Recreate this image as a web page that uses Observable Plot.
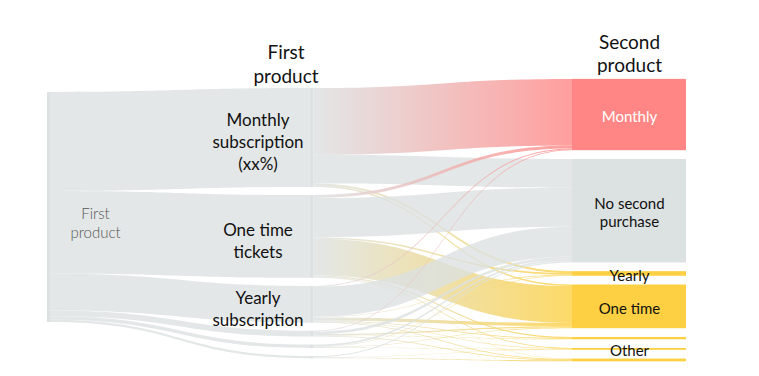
<!DOCTYPE html>
<html>
<head>
<meta charset="utf-8">
<script src="https://cdn.jsdelivr.net/npm/d3@7"></script>
<script src="https://cdn.jsdelivr.net/npm/@observablehq/plot@0.6"></script>
<style>
  html, body { margin: 0; padding: 0; background: #fff; }
  #chart { width: 759px; height: 376px; }
</style>
</head>
<body>
<div id="chart"></div>
<script>
// ---------------- DATA ----------------
const sourceLabel = "First\nproduct";
const columnTitles = ["First\nproduct", "Second\nproduct"];

// First product (middle column), share of customers in %
const firstProducts = ["Monthly\nsubscription\n(xx%)", "One time\ntickets", "Yearly\nsubscription", "", "", ""];
const firstShares = [43, 36, 16, 2.5, 1.5, 1.0];

// Second product (right column)
const secondProducts = ["Monthly", "No second\npurchase", "Yearly", "One time", "", "Other", ""];
const secondKinds = ["monthly", "none", "yearly", "onetime", "other", "other", "other"];

// flows[i][j]: % of customers going from first product i to second product j
const flows = [
  [29.0, 12.5, 0.8, 0.7, 0.0, 0.0, 0.0],
  [1.3, 17.0, 0.7, 16.0, 0.5, 0.3, 0.2],
  [0.4, 13.0, 0.3, 1.5, 0.3, 0.2, 0.3],
  [0.3, 1.2, 0.0, 0.5, 0.2, 0.0, 0.3],
  [0.0, 0.8, 0.2, 0.3, 0.0, 0.2, 0.0],
  [0.0, 0.5, 0.0, 0.0, 0.0, 0.1, 0.4]
];

// ---------------- STYLE / LAYOUT CONFIG ----------------
const palette = {grey: "#dce1e1", monthly: "#ff8684", none: "#dce1e1", yearly: "#fcd042", onetime: "#fcd042", other: "#fcd042"};
const W = 759, H = 376;
const K = 2.3;               // px per percentage point
const COL_PX = 262.5;        // px between columns
const LEFT_PX = 47;          // px of first column
const nodeWidthPx = [3, 4, 114];
const nodeW = nodeWidthPx.map(w => w / COL_PX);
const colTop = [40, 38.3, 34.3];  // in % units
const colGap = [0, 3.5, 3.8];     // in % units
const FONT = "Lato, 'Open Sans', sans-serif";

// ---------------- LAYOUT ----------------
const cols = [
  [{name: "src", label: sourceLabel, value: d3.sum(firstShares), color: palette.grey}],
  firstProducts.map((label, i) => ({name: "m" + i, label, value: firstShares[i], color: palette.grey})),
  secondProducts.map((label, j) => ({name: "s" + j, label, value: d3.sum(flows, r => r[j]), color: palette[secondKinds[j]], kind: secondKinds[j]}))
];
cols.forEach((col, c) => {
  let y = colTop[c];
  col.forEach(n => {
    n.col = c; n.y0 = y; n.y1 = y + n.value; n.out = n.y0; n.in = n.y0;
    y = n.y1 + colGap[c];
  });
});

const links = [];
cols[1].forEach((t, i) => links.push({source: cols[0][0], target: t, value: firstShares[i]}));
flows.forEach((row, i) => row.forEach((v, j) => { if (v > 0) links.push({source: cols[1][i], target: cols[2][j], value: v}); }));
links.forEach((l, k) => {
  l.id = "lg" + k;
  l.sy0 = l.source.out; l.sy1 = l.sy0 + l.value; l.source.out = l.sy1;
  l.ty0 = l.target.in; l.ty1 = l.ty0 + l.value; l.target.in = l.ty1;
  l.path = [
    {x: l.source.col + nodeW[l.source.col], y0: l.sy0, y1: l.sy1},
    {x: l.target.col, y0: l.ty0, y1: l.ty1}
  ];
});

const allNodes = cols.flat();

// ---------------- PLOT ----------------
const svg = Plot.plot({
  width: W,
  height: H,
  margin: 0,
  style: {fontFamily: FONT, background: "white"},
  x: {domain: [-LEFT_PX / COL_PX, (W - LEFT_PX) / COL_PX], range: [0, W], axis: null},
  y: {domain: [0, H / K], range: [0, H], axis: null},
  color: {type: "identity"},
  marks: [
    ...links.map(l => Plot.area(l.path, {
      x1: "x", y1: "y0", y2: "y1",
      fill: `url(#${l.id})`, fillOpacity: 0.8, curve: "bump-x"
    })),
    Plot.rect(allNodes, {
      x1: d => d.col, x2: d => d.col + nodeW[d.col],
      y1: "y0", y2: "y1", fill: d => d.color
    }),
    // column titles
    Plot.text([columnTitles[0]], {
      x: () => 1, y: () => colTop[1], text: d => d, dx: -24, dy: -25,
      fontSize: 19, lineHeight: 1.22, lineAnchor: "middle", fill: "#111", fontFamily: FONT
    }),
    Plot.text([columnTitles[1]], {
      x: () => 2 + nodeW[2] / 2, y: () => colTop[2], text: d => d, dy: -26,
      fontSize: 19, lineHeight: 1.22, lineAnchor: "middle", fill: "#111", fontFamily: FONT
    }),
    // left label
    Plot.text(cols[0], {
      x: d => d.col, y: d => (d.y0 + d.y1) / 2, text: "label", dx: 48, dy: 15,
      fontSize: 15, fontWeight: 300, lineHeight: 1.25, fill: "#555", fontFamily: FONT
    }),
    // first product labels
    Plot.text(cols[1], {
      x: d => d.col, y: d => (d.y0 + d.y1) / 2, text: "label", dx: -52, dy: 3,
      fontSize: 17, lineHeight: 1.3, fill: "#111", fontFamily: FONT
    }),
    // second product labels
    Plot.text(cols[2], {
      x: d => d.col + nodeW[2] / 2, y: d => (d.y0 + d.y1) / 2, text: "label", dy: 1,
      fontSize: 15, lineHeight: 1.2, fill: d => d.kind === "monthly" ? "#ffffff" : "#111", fontFamily: FONT
    })
  ]
});

// gradients for links (source colour -> target colour)
const defs = d3.select(svg).insert("defs", ":first-child");
links.forEach(l => {
  const g = defs.append("linearGradient").attr("id", l.id)
    .attr("x1", "0%").attr("x2", "100%").attr("y1", "0%").attr("y2", "0%");
  g.append("stop").attr("offset", "0%").attr("stop-color", l.source.color);
  g.append("stop").attr("offset", "100%").attr("stop-color", l.target.color);
});

document.getElementById("chart").appendChild(svg);
</script>
</body>
</html>
